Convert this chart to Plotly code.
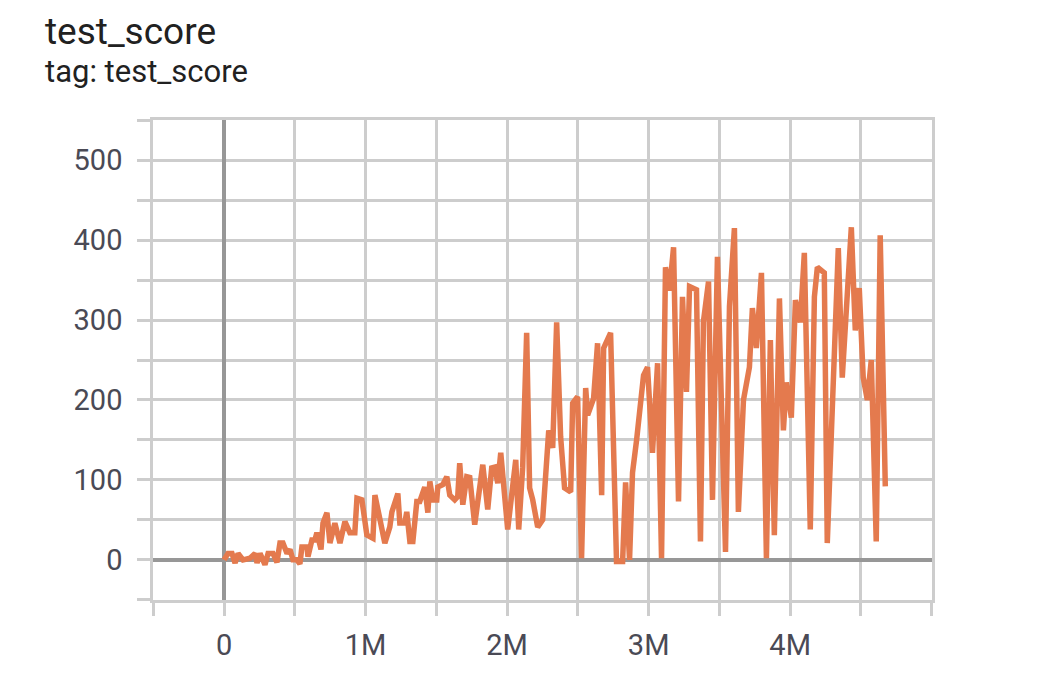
import plotly.graph_objects as go

# test_score curve (step in millions, score)
steps_m = [
    0.000, 0.028, 0.056, 0.078, 0.099, 0.134, 0.183, 0.219, 0.233, 0.254,
    0.289, 0.311, 0.346, 0.374, 0.395, 0.416, 0.445, 0.466, 0.487, 0.515,
    0.536, 0.550, 0.586, 0.593, 0.621, 0.642, 0.656, 0.685, 0.699, 0.727,
    0.748, 0.783, 0.819, 0.854, 0.889, 0.924, 0.939, 0.974, 1.009, 1.052,
    1.066, 1.101, 1.136, 1.171, 1.186, 1.228, 1.242, 1.277, 1.291, 1.313,
    1.334, 1.362, 1.383, 1.418, 1.440, 1.454, 1.475, 1.503, 1.510, 1.545,
    1.574, 1.595, 1.630, 1.651, 1.665, 1.687, 1.715, 1.736, 1.771, 1.828,
    1.863, 1.891, 1.912, 1.934, 1.955, 2.004, 2.061, 2.082, 2.110, 2.138,
    2.159, 2.181, 2.216, 2.251, 2.279, 2.294, 2.322, 2.350, 2.378, 2.406,
    2.449, 2.463, 2.498, 2.526, 2.555, 2.569, 2.611, 2.639, 2.668, 2.682,
    2.731, 2.773, 2.816, 2.837, 2.865, 2.886, 2.915, 2.964, 2.992, 3.027,
    3.063, 3.091, 3.119, 3.147, 3.176, 3.211, 3.239, 3.267, 3.289, 3.338,
    3.366, 3.387, 3.423, 3.451, 3.486, 3.543, 3.571, 3.606, 3.634, 3.670,
    3.712, 3.733, 3.761, 3.797, 3.832, 3.860, 3.888, 3.924, 3.952, 3.973,
    4.008, 4.037, 4.072, 4.100, 4.142, 4.171, 4.192, 4.241, 4.262, 4.298,
    4.340, 4.368, 4.396, 4.432, 4.460, 4.488, 4.516, 4.545, 4.573, 4.608,
    4.636, 4.672,
]
scores = [
    0, 8, 8, -4, 8, 0, 2, 8, -4, 8,
    -6, 8, 8, -3, 21, 21, 8, 13, 0, 0,
    -5, 16, 16, 4, 25, 25, 34, 13, 46, 59,
    21, 46, 21, 48, 34, 34, 77, 75, 31, 27,
    81, 48, 21, 41, 60, 83, 46, 46, 60, 23,
    23, 73, 73, 91, 59, 98, 75, 75, 91, 94,
    104, 81, 75, 79, 121, 69, 104, 103, 44, 119,
    63, 115, 116, 96, 134, 38, 125, 38, 116, 284,
    90, 75, 41, 50, 125, 162, 140, 297, 154, 90,
    85, 196, 204, 2, 215, 181, 202, 271, 81, 265,
    284, -2, -2, 97, 0, 109, 150, 231, 241, 134,
    246, 2, 366, 337, 391, 73, 329, 210, 342, 338,
    23, 298, 348, 75, 379, 10, 317, 415, 60, 200,
    241, 315, 265, 359, 2, 275, 31, 327, 162, 222,
    178, 325, 297, 384, 38, 329, 366, 359, 21, 206,
    390, 228, 310, 416, 287, 340, 228, 200, 250, 23,
    406, 92,
]

x_ticks = [-0.5, 0, 0.5, 1, 1.5, 2, 2.5, 3, 3.5, 4, 4.5, 5]
x_labels = ["", "0", "", "1M", "", "2M", "", "3M", "", "4M", "", ""]
y_ticks = [-50, 0, 50, 100, 150, 200, 250, 300, 350, 400, 450, 500, 550]
y_labels = ["", "0", "", "100", "", "200", "", "300", "", "400", "", "500", ""]

GRID = "#cdcdcd"
ZERO = "#979797"

fig = go.Figure()
fig.add_trace(go.Scatter(
    x=steps_m, y=scores, mode="lines",
    line=dict(color="#e47a4e", width=5.5),
    showlegend=False,
))

# page body adds an 8px offset, so margins below are shifted by 8
fig.add_annotation(text="test_score", xref="paper", yref="paper",
                   x=-0.1412, y=1.136, xanchor="left", yanchor="bottom",
                   showarrow=False,
                   font=dict(family="Roboto", size=37, color="#212121"))
fig.add_annotation(text="tag: test_score", xref="paper", yref="paper",
                   x=-0.1412, y=1.058, xanchor="left", yanchor="bottom",
                   showarrow=False,
                   font=dict(family="Roboto", size=31, color="#212121"))

fig.update_xaxes(
    range=[-0.502, 5.002], tickvals=x_ticks, ticktext=x_labels,
    showgrid=True, gridcolor=GRID, gridwidth=2.5,
    showline=True, mirror=True, linecolor=GRID, linewidth=2.5,
    zeroline=True, zerolinecolor=ZERO, zerolinewidth=4,
    ticks="outside", ticklen=13, tickwidth=2.5, tickcolor=GRID,
    ticklabelstandoff=4,
    tickfont=dict(family="Roboto", size=29, color="#4a4a55"),
)
fig.update_yaxes(
    range=[-50.2, 550.2], tickvals=y_ticks, ticktext=y_labels,
    showgrid=True, gridcolor=GRID, gridwidth=2.5,
    showline=True, mirror=True, linecolor=GRID, linewidth=2.5,
    zeroline=True, zerolinecolor=ZERO, zerolinewidth=4,
    ticks="outside", ticklen=13, tickwidth=2.5, tickcolor=GRID,
    ticklabelstandoff=9,
    tickfont=dict(family="Roboto", size=29, color="#4a4a55"),
)
fig.update_layout(
    width=1057, height=674,
    margin=dict(l=145, r=133, t=112, b=82),
    paper_bgcolor="white", plot_bgcolor="white",
)
fig.write_html("out.html")
